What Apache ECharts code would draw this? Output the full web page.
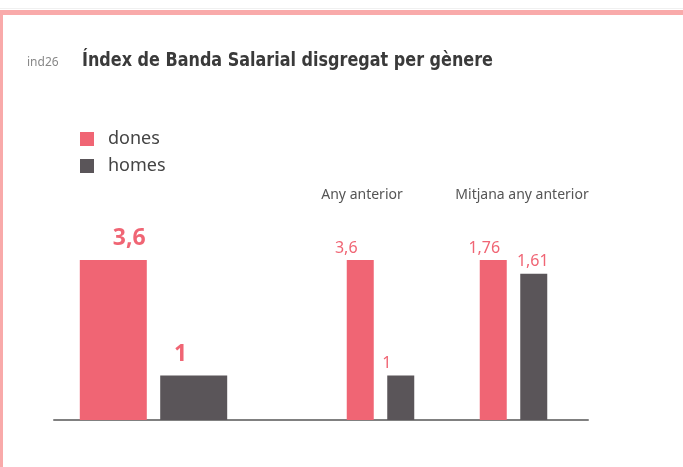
<!DOCTYPE html>
<html>
<head>
<meta charset="utf-8">
<script src="https://cdn.jsdelivr.net/npm/echarts@6/dist/echarts.min.js"></script>
<style>
  html, body { margin: 0; padding: 0; background: #fff; }
  #chart { width: 683px; height: 467px; }
</style>
</head>
<body>
<div id="chart"></div>
<script>
// Índex de Banda Salarial per gènere.
// Cada grup té la seva pròpia escala: la barra més alta del grup fa sempre la mateixa alçada.

const indicatorCode = 'ind26';
const chartTitle = 'Índex de Banda Salarial disgregat per gènere';
const seriesNames = ['dones', 'homes'];
const groupNames = ['', 'Any anterior', 'Mitjana any anterior'];
const donesValues = [3.6, 3.6, 1.76];
const homesValues = [1, 1, 1.61];

// estil (no són dades)
const PINK = '#f06574';
const GREY = '#5a5559';
const FONT = '"Noto Sans", sans-serif';
const grids = [
  { left: 54, width: 199 },
  { left: 253, width: 255 },
  { left: 439, width: 149 },
];
const barWidths = [67, 27, 27];
const barGaps = ['20%', '50%', '50%'];
const donesLabelOffset = [[16, 0], [-14, 0], [-9, 0]];
const homesLabelOffset = [[-13, 0], [-14, 0], [-1, 0]];
const groupTitlePos = [null, 362, 522];

const fmt = v => String(v).replace('.', ',');

function valueLabel(g, offset) {
  const big = g === 0;
  return {
    show: true,
    position: 'top',
    distance: big ? 10 : 4,
    offset: offset,
    color: PINK,
    fontFamily: FONT,
    fontSize: big ? 23 : 16,
    fontWeight: big ? 'bold' : 'normal',
    formatter: p => fmt(p.value),
  };
}

const series = [];
groupNames.forEach((name, g) => {
  series.push({
    name: seriesNames[0], type: 'bar', xAxisIndex: g, yAxisIndex: g,
    data: [donesValues[g]], barWidth: barWidths[g], barGap: barGaps[g],
    itemStyle: { color: PINK }, label: valueLabel(g, donesLabelOffset[g]),
  });
  series.push({
    name: seriesNames[1], type: 'bar', xAxisIndex: g, yAxisIndex: g,
    data: [homesValues[g]], barWidth: barWidths[g], barGap: barGaps[g],
    itemStyle: { color: GREY }, label: valueLabel(g, homesLabelOffset[g]),
  });
});

const groupTitles = [];
groupNames.forEach((name, g) => {
  if (!name) return;
  groupTitles.push({
    type: 'text', x: groupTitlePos[g], y: 195,
    style: { text: name, fill: '#555', font: '14px ' + FONT, textAlign: 'center', textVerticalAlign: 'middle' },
  });
});

const chart = echarts.init(document.getElementById('chart'));
chart.setOption({
  animation: false,
  title: [
    { text: indicatorCode, left: 27, top: 57, padding: 0, textStyle: { fontSize: 12, fontWeight: 'normal', color: '#888', fontFamily: FONT } },
  ],
  legend: {
    data: seriesNames,
    orient: 'vertical',
    left: 80, top: 130, padding: 0,
    icon: 'rect', itemWidth: 14, itemHeight: 14, itemGap: 9,
    selectedMode: false,
    textStyle: { fontSize: 18, color: '#444', fontFamily: FONT, padding: [0, 0, 0, 9] },
  },
  grid: grids.map(gr => ({ left: gr.left, width: gr.width, top: 260, bottom: 47 })),
  xAxis: groupNames.map((name, g) => ({
    type: 'category', gridIndex: g, data: [name],
    axisLine: { show: true, lineStyle: { color: '#808080', width: 2 } },
    axisTick: { show: false }, axisLabel: { show: false },
  })),
  yAxis: groupNames.map((name, g) => ({
    type: 'value', gridIndex: g, min: 0,
    max: Math.max(donesValues[g], homesValues[g]),
    show: false, splitLine: { show: false },
  })),
  graphic: [
    { type: 'rect', shape: { x: 0, y: 8, width: 683, height: 1 }, style: { fill: '#f0f0f0' }, silent: true },
    { type: 'rect', shape: { x: 0, y: 10, width: 683, height: 5 }, style: { fill: '#f9aaaa' }, silent: true },
    { type: 'rect', shape: { x: 0, y: 10, width: 3, height: 457 }, style: { fill: '#f9aaaa' }, silent: true },
    // títol en lletra condensada (escala horitzontal per ajustar l'amplada)
    {
      type: 'text', x: 82, y: 61, scaleX: 0.89,
      style: { text: chartTitle, fill: '#3a3a3a', font: 'bold 20px "DejaVu Sans Condensed", "DejaVu Sans", sans-serif', textVerticalAlign: 'middle' },
    },
    ...groupTitles,
  ],
  series: series,
});
</script>
</body>
</html>
